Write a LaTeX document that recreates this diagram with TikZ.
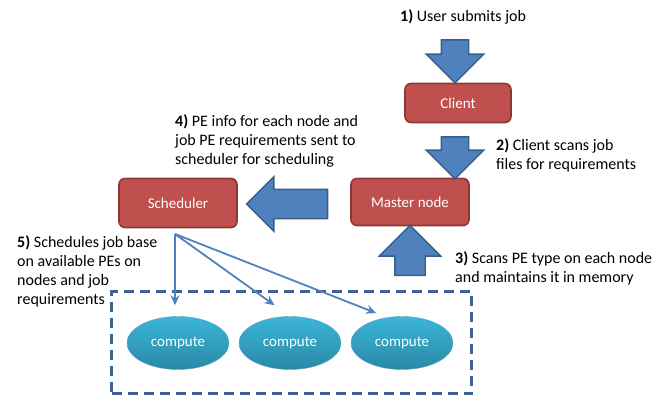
\documentclass[tikz,border=0pt]{standalone}
\usepackage{fontspec}
\setmainfont{Carlito}
\usetikzlibrary{arrows.meta,shapes.geometric,shapes.arrows,positioning}
\definecolor{boxred}{HTML}{C0504D}
\definecolor{boxline}{HTML}{8C3836}
\definecolor{arrblue}{HTML}{4F81BD}
\definecolor{arrline}{HTML}{385D8A}
\definecolor{cyantop}{HTML}{3BB6D8}
\definecolor{cyanbot}{HTML}{2A88A6}
\definecolor{dashblue}{HTML}{3E6092}

\begin{document}
\begin{tikzpicture}[x=1pt, y=-1pt, font=\fontsize{16}{19}\selectfont, >={Stealth[length=10pt,width=9pt]},
  b/.style={draw=boxline, fill=boxred, line width=1.6pt, rounded corners=6pt, text=white,
    font=\fontsize{15}{16}\selectfont, minimum width=118pt, minimum height=47pt},
  fat/.style={single arrow, draw=arrline, fill=arrblue, line width=1.4pt, inner sep=13pt,
    minimum width=56pt, single arrow head extend=15pt},
  comp/.style={ellipse, top color=cyantop, bottom color=cyanbot, draw=cyanbot!80, line width=0.4pt,
    text=white, font=\fontsize{15}{16}\selectfont, minimum width=102pt, minimum height=53pt},
  lbl/.style={align=left, anchor=west, inner sep=0pt},
  thin/.style={->, draw=arrblue, line width=1.8pt}]
  \useasboundingbox (0,0) rectangle (664,396);
  % boxes
  \node[b, minimum width=106pt, minimum height=39pt] (client) at (458,103) {Client};
  \node[b] (master) at (410,202) {Master node};
  \node[b, minimum height=49pt] (sched) at (178,203) {Scheduler};
  % compute nodes
  \node[comp] (c1) at (178,343) {compute};
  \node[comp] (c2) at (290,343) {compute};
  \node[comp] (c3) at (402,343) {compute};
  \node[draw=dashblue, line width=2.6pt, dash pattern=on 10pt off 6pt,
    minimum width=360pt, minimum height=102pt] (pool) at (291.5,342.5) {};
  % labels
  \node[lbl] (l1) at (400,17)  {\textbf{1)} User submits job};
  \node[lbl] (l2) at (496,155) {\textbf{2)} Client scans job\\files for requirements};
  \node[lbl] (l3) at (455,268.5) {\textbf{3)} Scans PE type on each node\\and maintains it in memory};
  \node[lbl] (l4) at (175,141) {\textbf{4)} PE info for each node and\\job PE requirements sent to\\scheduler for scheduling};
  \node[lbl] (l5) at (17,271) {\textbf{5)} Schedules job base\\on available PEs on\\nodes and job\\requirements};
  % fat arrows
  \node[fat, shape border rotate=270, minimum height=43pt] (a1) at (455,54.5) {};
  \node[fat, shape border rotate=270, minimum height=42pt] (a2) at (455,151) {};
  \node[fat, shape border rotate=90, minimum height=50pt, minimum width=60pt,
    inner sep=14.5pt, single arrow head extend=15.5pt] (a3) at (410,258) {};
  \node[fat, shape border rotate=180, minimum height=81pt, minimum width=53pt,
    inner sep=14pt, single arrow head extend=12.5pt] (a4) at (294.5,204) {};
  % scheduling
  \coordinate (fork) at (175,234);
  \draw[thin, shorten >=11pt] (fork) -- (fork |- c1.north);
  \draw[thin, shorten >=19pt] (fork) -- (c2.north);
  \draw[thin, shorten >=12pt] (fork) -- (c3.120);
\end{tikzpicture}
\end{document}
